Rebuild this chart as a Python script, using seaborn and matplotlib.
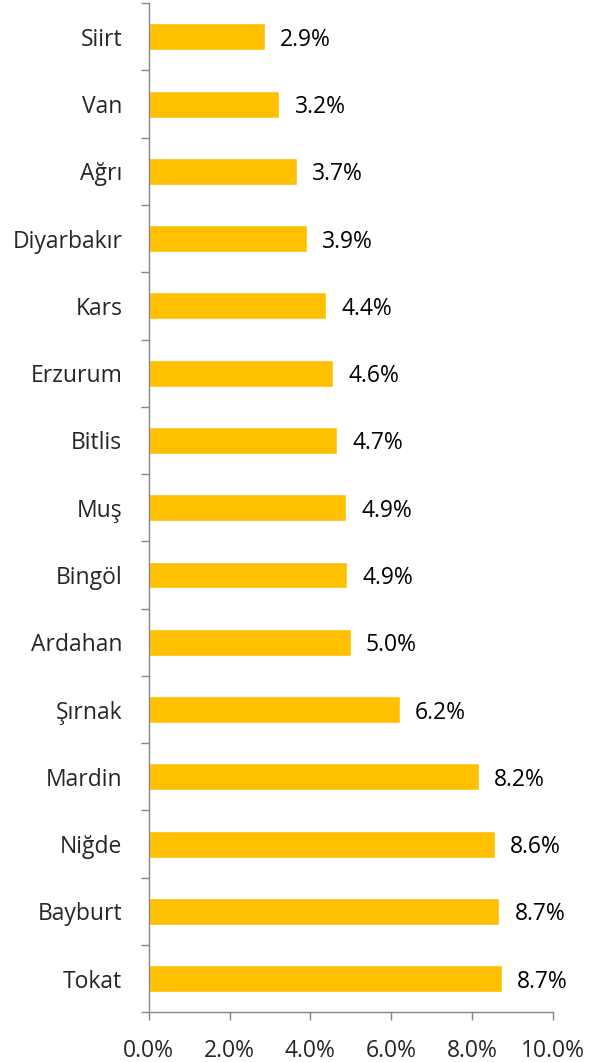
import matplotlib
matplotlib.use("Agg")
import matplotlib.pyplot as plt
import numpy as np
import pandas as pd
import seaborn as sns

provinces = ["Siirt", "Van", "Ağrı", "Diyarbakır", "Kars", "Erzurum", "Bitlis",
             "Muş", "Bingöl", "Ardahan", "Şırnak", "Mardin", "Niğde", "Bayburt", "Tokat"]
shares = [2.88, 3.23, 3.67, 3.92, 4.39, 4.56, 4.66,
          4.89, 4.92, 5.00, 6.21, 8.17, 8.57, 8.68, 8.74]
xticks = [0, 2, 4, 6, 8, 10]

sns.set_style("white")
plt.rcParams["font.family"] = ["Open Sans", "DejaVu Sans"]

df = pd.DataFrame({"province": provinces, "share": shares})

fig = plt.figure(figsize=(5.98, 10.62), dpi=100)
ax = fig.add_axes([0.2487, 0.0468, 0.9242 - 0.2487, 0.997 - 0.0468])

sns.barplot(data=df, x="share", y="province", orient="h", color="#FFC000",
            saturation=1, width=0.4, ax=ax)

for cont in ax.containers:
    texts = ax.bar_label(cont, labels=[f"{v:.1f}%" for v in shares], padding=11,
                         fontsize=16.5, color="black")
    for t in texts:
        t.set_verticalalignment("center_baseline")

ax.set_xlim(0, 10)
ax.set_ylim(len(provinces) - 0.5, -0.5)
ax.set_xticks(xticks)
ax.set_xticklabels([f"{t:.1f}%" for t in xticks])
ax.set_yticks(np.arange(-0.5, len(provinces), 1), minor=True)
ax.set_xlabel("")
ax.set_ylabel("")

for side in ["top", "right"]:
    ax.spines[side].set_visible(False)
for side in ["left", "bottom"]:
    ax.spines[side].set_color("#868686")
    ax.spines[side].set_linewidth(1.0)

ax.tick_params(axis="y", which="major", length=0, pad=19, labelsize=16.5)
ax.tick_params(axis="y", which="minor", length=6, width=1, color="#868686", left=True)
ax.tick_params(axis="x", which="major", length=6, width=1, color="#868686",
               bottom=True, pad=13, labelsize=16.5)

fig.savefig("out.png", dpi=100)
